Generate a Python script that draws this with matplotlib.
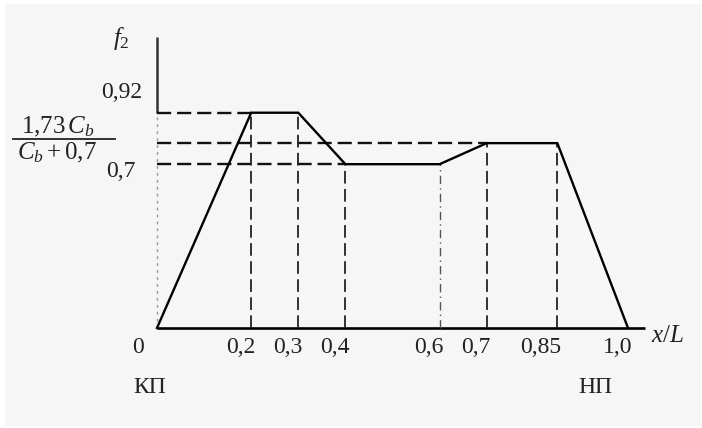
import matplotlib.pyplot as plt
from matplotlib.patches import Rectangle

plt.rcParams['font.family'] = ['Liberation Serif', 'DejaVu Serif']
plt.rcParams['mathtext.fontset'] = 'custom'
plt.rcParams['mathtext.rm'] = 'Liberation Serif'
plt.rcParams['mathtext.it'] = 'Liberation Serif:italic'

# break points of the f2 curve
x_pts = [0, 0.2, 0.3, 0.4, 0.6, 0.7, 0.85, 1.0]
f_pts = [0, 0.92, 0.92, 0.70, 0.70, 0.79, 0.79, 0]

# x tick labels (same order as the inner break points)
x_ticks = [0.2, 0.3, 0.4, 0.6, 0.7, 0.85, 1.0]
x_labels = ['0,2', '0,3', '0,4', '0,6', '0,7', '0,85', '1,0']

# horizontal guide levels and where they end
levels = [0.92, 0.79, 0.70]
level_ends = [0.2, 0.7, 0.4]

fig = plt.figure(figsize=(7.02, 4.28), dpi=100)
fig.patch.set_facecolor('white')

ax = fig.add_axes([0, 0, 1, 1])
ax.set_xlim(-0.3333, 1.1571)
ax.set_ylim(-0.4274, 1.4017)
ax.axis('off')
ax.add_patch(Rectangle((5 / 702, 3 / 428), 695 / 702, 421 / 428,
                       transform=ax.transAxes, color='#f6f6f6', zorder=0))

fs = 17
fs2 = 18
tc = '#222222'

# axes lines
ax.plot([0, 1.036], [0, 0], color='black', lw=1.9, solid_capstyle='butt')
ax.plot([0, 0], [0.92, 1.244], color='#333333', lw=1.8, solid_capstyle='butt')
ax.plot([0, 0], [0, 0.92], color='#999999', lw=1.0, linestyle=(0, (2, 3)))

# horizontal dashed guides
for lv, xe in zip(levels, level_ends):
    ax.plot([0, xe], [lv, lv], color='#111111', lw=1.7, dashes=(6, 2.5))

# vertical dashed guides down to the axis
for xv, fv in zip(x_pts[1:-1], f_pts[1:-1]):
    if xv == 0.6:
        ax.plot([xv, xv], [0, fv], color='#555555', lw=1.0, linestyle=(0, (6, 3, 1, 3)))
    else:
        ax.plot([xv, xv], [0, fv], color='#222222', lw=1.3, dashes=(7, 3))

# main curve
ax.plot(x_pts, f_pts, color='black', lw=1.7, solid_joinstyle='miter')

# x tick labels
ax.text(-0.04, -0.085, '0', fontsize=fs, color=tc, ha='center', va='center')
for xv, lab in zip(x_ticks, x_labels):
    ax.text(xv + 0.009, -0.085, lab, fontsize=fs, color=tc, ha='right', va='center')
ax.text(1.083, -0.036, '$x/L$', fontsize=fs2, color=tc, ha='center', va='center')
ax.text(-0.015, -0.256, 'КП', fontsize=fs, color=tc, ha='center', va='center')
ax.text(0.93, -0.254, 'НП', fontsize=fs, color=tc, ha='center', va='center')

# y labels
ax.text(-0.076, 1.239, '$f_2$', fontsize=fs2, color=tc, ha='center', va='center')
ax.text(-0.074, 1.006, '0,92', fontsize=fs, color=tc, ha='center', va='center')
ax.text(-0.077, 0.667, '0,7', fontsize=fs, color=tc, ha='center', va='center')
ax.text(-0.211, 0.859, r'$1{,}73\,C_b$', fontsize=fs2, color=tc, ha='center', va='center')
ax.text(-0.212, 0.748, r'$C_b + 0{,}7$', fontsize=fs2, color=tc, ha='center', va='center')
ax.plot([-0.306, -0.089], [0.808, 0.808], color=tc, lw=1.3)

plt.savefig('out.png', dpi=100)
